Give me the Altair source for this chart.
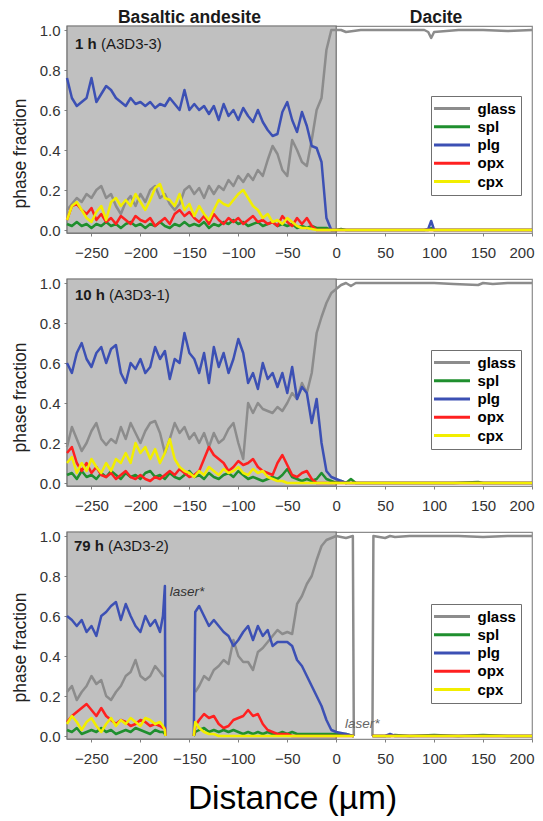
import altair as alt
import pandas as pd

FONT = "Liberation Sans"
W, H = 465, 207

PHASES = ["glass", "spl", "plg", "opx", "cpx"]
COLORS = ["#8c8c8c", "#1f8f2e", "#3c50b4", "#ff2020", "#f2ee00"]

X_TICKS = [-250, -200, -150, -100, -50, 0, 50, 100, 150, 200]
Y_TICKS = [0.0, 0.2, 0.4, 0.6, 0.8, 1.0]
X_DOMAIN = [-275, 200]
Y_DOMAIN = [-0.015, 1.02]

HEADINGS = ["Basaltic andesite", "Dacite"]
HEAD_X = [-150, 102]
PANEL_BOLD = ["1 h", "10 h", "79 h"]
PANEL_ID = ["(A3D3-3)", "(A3D3-1)", "(A3D3-2)"]
LASER_TEXT = ["laser*", "laser*"]
LASER_X = [-170, 9]
LASER_Y = [0.72, 0.06]
SHADE_X = [-275]
SHADE_X2 = [0]

# ---------- left (basaltic andesite) sampling grid for panels 1 and 2 ----------
X_LEFT = [-275, -270, -265, -260, -255, -250, -245, -240, -235, -230,
          -225, -220, -215, -210, -205, -200, -195, -190, -185, -180,
          -175, -170, -165, -160, -155, -150, -145, -140, -135, -130,
          -125, -120, -115, -110, -105, -100, -95, -90, -85, -80,
          -75, -70, -65, -60, -55, -50, -45, -40, -35, -30,
          -25, -20, -15, -10, -5, 0]

# ---------- panel 1 : 1 h (A3D3-3) ----------
P1_GLASS_L = [0.10, 0.13, 0.16, 0.14, 0.18, 0.16, 0.20, 0.22, 0.16, 0.18,
              0.12, 0.08, 0.14, 0.17, 0.12, 0.18, 0.14, 0.20, 0.22, 0.16,
              0.18, 0.13, 0.10, 0.13, 0.20, 0.22, 0.18, 0.21, 0.16, 0.22,
              0.18, 0.22, 0.20, 0.25, 0.22, 0.27, 0.24, 0.28, 0.25, 0.30,
              0.27, 0.35, 0.42, 0.38, 0.30, 0.27, 0.45, 0.40, 0.34, 0.32,
              0.45, 0.60, 0.66, 0.90, 1.00, 1.00]
P1_SPL_L = [0.03, 0.02, 0.04, 0.02, 0.03, 0.01, 0.03, 0.02, 0.04, 0.02,
            0.03, 0.01, 0.03, 0.04, 0.02, 0.03, 0.01, 0.03, 0.02, 0.04,
            0.02, 0.01, 0.03, 0.02, 0.04, 0.02, 0.03, 0.02, 0.04, 0.01,
            0.03, 0.02, 0.04, 0.03, 0.05, 0.03, 0.04, 0.02, 0.03, 0.04,
            0.02, 0.03, 0.04, 0.02, 0.03, 0.02, 0.03, 0.01, 0.02, 0.01,
            0.02, 0.01, 0.01, 0.01, 0.00, 0.00]
P1_PLG_L = [0.76, 0.66, 0.62, 0.64, 0.66, 0.76, 0.64, 0.68, 0.72, 0.70,
            0.66, 0.64, 0.62, 0.66, 0.63, 0.64, 0.62, 0.64, 0.61, 0.63,
            0.62, 0.66, 0.63, 0.60, 0.70, 0.60, 0.63, 0.60, 0.62, 0.58,
            0.62, 0.55, 0.63, 0.57, 0.60, 0.55, 0.61, 0.57, 0.54, 0.60,
            0.54, 0.50, 0.47, 0.48, 0.59, 0.64, 0.55, 0.49, 0.59, 0.52,
            0.42, 0.41, 0.34, 0.06, 0.00, 0.00]
P1_OPX_L = [0.05, 0.12, 0.13, 0.10, 0.08, 0.11, 0.05, 0.08, 0.04, 0.06,
            0.03, 0.07, 0.05, 0.03, 0.07, 0.05, 0.04, 0.06, 0.02, 0.04,
            0.06, 0.03, 0.08, 0.10, 0.07, 0.09, 0.06, 0.04, 0.07, 0.03,
            0.08, 0.05, 0.03, 0.06, 0.04, 0.06, 0.03, 0.05, 0.07, 0.04,
            0.05, 0.03, 0.04, 0.02, 0.07, 0.04, 0.02, 0.06, 0.03, 0.06,
            0.02, 0.00, 0.00, 0.00, 0.00, 0.00]
P1_CPX_L = [0.05, 0.12, 0.14, 0.10, 0.06, 0.04, 0.09, 0.12, 0.05, 0.14,
            0.16, 0.12, 0.15, 0.12, 0.18, 0.14, 0.10, 0.15, 0.21, 0.23,
            0.16, 0.15, 0.12, 0.18, 0.10, 0.13, 0.07, 0.12, 0.08, 0.05,
            0.10, 0.15, 0.13, 0.12, 0.15, 0.18, 0.20, 0.16, 0.12, 0.10,
            0.06, 0.08, 0.04, 0.05, 0.03, 0.06, 0.04, 0.02, 0.01, 0.01,
            0.005, 0.00, 0.00, 0.00, 0.00, 0.00]
R1_X = [5, 10, 25, 50, 75, 90, 94, 97, 100, 125, 150, 175, 200]
P1_GLASS_R = [1.00, 0.99, 1.00, 1.00, 1.00, 1.00, 0.99, 0.96, 0.99, 1.00, 1.00, 0.995, 1.00]
P1_SPL_R = [0.005, 0.00, 0.00, 0.00, 0.00, 0.00, 0.00, 0.01, 0.00, 0.00, 0.00, 0.00, 0.00]
P1_PLG_R = [0.00, 0.00, 0.00, 0.00, 0.00, 0.00, 0.005, 0.045, 0.00, 0.00, 0.00, 0.00, 0.00]
P1_OPX_R = [0.00, 0.00, 0.00, 0.00, 0.00, 0.00, 0.00, 0.00, 0.00, 0.00, 0.00, 0.00, 0.00]
P1_CPX_R = [0.00, 0.00, 0.00, 0.00, 0.00, 0.00, 0.00, 0.00, 0.00, 0.00, 0.00, 0.00, 0.00]

# ---------- panel 2 : 10 h (A3D3-1) ----------
P2_GLASS_L = [0.18, 0.28, 0.22, 0.16, 0.20, 0.26, 0.30, 0.22, 0.19, 0.22,
              0.20, 0.28, 0.22, 0.30, 0.25, 0.20, 0.26, 0.30, 0.31, 0.25,
              0.15, 0.22, 0.30, 0.25, 0.28, 0.22, 0.25, 0.20, 0.25, 0.18,
              0.25, 0.20, 0.22, 0.27, 0.30, 0.20, 0.12, 0.40, 0.35, 0.40,
              0.37, 0.36, 0.35, 0.38, 0.36, 0.40, 0.45, 0.42, 0.50, 0.45,
              0.55, 0.75, 0.83, 0.90, 0.95, 0.97]
P2_SPL_L = [0.04, 0.05, 0.02, 0.06, 0.03, 0.04, 0.02, 0.05, 0.03, 0.06,
            0.04, 0.02, 0.05, 0.03, 0.04, 0.02, 0.05, 0.06, 0.03, 0.04,
            0.02, 0.05, 0.03, 0.02, 0.04, 0.06, 0.03, 0.04, 0.02, 0.05,
            0.03, 0.02, 0.04, 0.05, 0.03, 0.06, 0.04, 0.02, 0.03, 0.02,
            0.01, 0.02, 0.03, 0.02, 0.04, 0.07, 0.03, 0.02, 0.01, 0.02,
            0.01, 0.02, 0.05, 0.02, 0.01, 0.00]
P2_PLG_L = [0.60, 0.55, 0.65, 0.70, 0.62, 0.58, 0.65, 0.68, 0.60, 0.67,
            0.69, 0.55, 0.50, 0.60, 0.57, 0.62, 0.55, 0.58, 0.68, 0.62,
            0.66, 0.52, 0.62, 0.60, 0.75, 0.65, 0.62, 0.55, 0.65, 0.50,
            0.68, 0.58, 0.65, 0.55, 0.62, 0.72, 0.65, 0.50, 0.55, 0.47,
            0.60, 0.52, 0.55, 0.48, 0.55, 0.45, 0.58, 0.42, 0.48, 0.45,
            0.30, 0.42, 0.20, 0.06, 0.03, 0.02]
P2_OPX_L = [0.15, 0.18, 0.10, 0.06, 0.10, 0.05, 0.08, 0.04, 0.03, 0.05,
            0.02, 0.04, 0.06, 0.03, 0.02, 0.04, 0.02, 0.01, 0.03, 0.02,
            0.04, 0.06, 0.04, 0.07, 0.05, 0.03, 0.04, 0.06, 0.12, 0.18,
            0.14, 0.12, 0.10, 0.06, 0.08, 0.11, 0.09, 0.10, 0.12, 0.08,
            0.06, 0.05, 0.04, 0.10, 0.14, 0.09, 0.04, 0.03, 0.05, 0.06,
            0.02, 0.00, 0.00, 0.00, 0.00, 0.00]
P2_CPX_L = [0.10, 0.13, 0.05, 0.10, 0.06, 0.12, 0.08, 0.05, 0.10, 0.06,
            0.12, 0.10, 0.15, 0.10, 0.20, 0.15, 0.18, 0.12, 0.17, 0.10,
            0.15, 0.22, 0.12, 0.08, 0.06, 0.05, 0.03, 0.06, 0.04, 0.08,
            0.06, 0.04, 0.07, 0.05, 0.06, 0.08, 0.05, 0.04, 0.07, 0.05,
            0.06, 0.03, 0.02, 0.01, 0.01, 0.00, 0.00, 0.00, 0.00, 0.00,
            0.00, 0.00, 0.00, 0.00, 0.00, 0.00]
R2_X = [5, 10, 15, 20, 50, 100, 120, 145, 150, 160, 175, 200]
P2_GLASS_R = [0.99, 1.00, 0.985, 1.00, 1.00, 1.00, 0.995, 0.99, 1.00, 0.995, 1.00, 1.00]
P2_SPL_R = [0.01, 0.00, 0.02, 0.00, 0.00, 0.00, 0.00, 0.005, 0.00, 0.00, 0.00, 0.00]
P2_PLG_R = [0.01, 0.00, 0.00, 0.00, 0.00, 0.00, 0.00, 0.00, 0.00, 0.00, 0.00, 0.00]
P2_OPX_R = [0.00, 0.00, 0.00, 0.00, 0.00, 0.00, 0.00, 0.00, 0.00, 0.00, 0.00, 0.00]
P2_CPX_R = [0.00, 0.00, 0.00, 0.00, 0.00, 0.00, 0.00, 0.00, 0.00, 0.00, 0.00, 0.00]

# ---------- panel 3 : 79 h (A3D3-2), with laser gaps (None) ----------
P3_X = [-275, -270, -265, -260, -255, -250, -245, -240, -235, -230,
        -225, -220, -215, -210, -205, -200, -195, -190, -185, -180,
        -177, -175, -174.5, -160, -145.5, -144, -140, -135, -130, -125,
        -120, -115, -110, -105, -100, -95, -90, -85, -80, -75,
        -70, -65, -60, -55, -50, -45, -40, -35, -30, -25,
        -20, -15, -10, -5, 0, 10, 17, 18, 27, 37,
        38, 50, 55, 60, 75, 100, 125, 150, 175, 200]
P3_GLASS = [0.22, 0.25, 0.18, 0.22, 0.25, 0.30, 0.26, 0.28, 0.20, 0.18,
            0.22, 0.25, 0.30, 0.32, 0.38, 0.30, 0.28, 0.30, 0.35, 0.32,
            0.30, 0.30, None, None, None, 0.22, 0.25, 0.30, 0.28, 0.33,
            0.35, 0.38, 0.36, 0.48, 0.40, 0.37, 0.37, 0.33, 0.42, 0.44,
            0.47, 0.50, 0.53, 0.51, 0.52, 0.51, 0.66, 0.70, 0.76, 0.80,
            0.88, 0.95, 0.98, 0.99, 1.00, 0.99, 1.00, 0.00, None, 0.00,
            1.00, 0.99, 1.00, 0.995, 1.00, 1.00, 1.00, 0.995, 1.00, 1.00]
P3_SPL = [0.03, 0.02, 0.04, 0.01, 0.02, 0.03, 0.02, 0.04, 0.02, 0.03,
          0.01, 0.02, 0.03, 0.02, 0.04, 0.03, 0.02, 0.01, 0.03, 0.02,
          0.02, 0.01, 0.00, None, 0.00, 0.02, 0.03, 0.04, 0.02, 0.03,
          0.02, 0.03, 0.02, 0.03, 0.02, 0.01, 0.02, 0.01, 0.02, 0.01,
          0.02, 0.01, 0.01, 0.02, 0.01, 0.02, 0.01, 0.01, 0.01, 0.01,
          0.01, 0.01, 0.01, 0.01, 0.01, 0.01, 0.00, 0.00, None, 0.00,
          0.00, 0.00, 0.00, 0.005, 0.00, 0.005, 0.00, 0.005, 0.00, 0.00]
P3_PLG = [0.60, 0.58, 0.55, 0.58, 0.52, 0.55, 0.50, 0.60, 0.62, 0.65,
          0.67, 0.58, 0.66, 0.60, 0.55, 0.52, 0.60, 0.55, 0.58, 0.52,
          0.60, 0.75, 0.00, None, 0.00, 0.62, 0.65, 0.60, 0.55, 0.58,
          0.55, 0.52, 0.50, 0.45, 0.48, 0.52, 0.55, 0.48, 0.55, 0.50,
          0.53, 0.45, 0.47, 0.47, 0.47, 0.45, 0.38, 0.35, 0.30, 0.25,
          0.20, 0.15, 0.08, 0.03, 0.02, 0.01, 0.00, 0.00, None, 0.00,
          0.00, 0.00, 0.01, 0.00, 0.00, 0.00, 0.00, 0.00, 0.00, 0.00]
P3_OPX = [0.07, 0.10, 0.12, 0.14, 0.16, 0.13, 0.10, 0.14, 0.10, 0.08,
          0.06, 0.08, 0.07, 0.05, 0.06, 0.08, 0.07, 0.05, 0.06, 0.05,
          0.04, 0.04, 0.00, None, 0.00, 0.05, 0.08, 0.11, 0.09, 0.10,
          0.06, 0.04, 0.05, 0.08, 0.09, 0.10, 0.13, 0.10, 0.11, 0.06,
          0.03, 0.02, 0.01, 0.01, 0.01, 0.00, 0.00, 0.00, 0.00, 0.00,
          0.00, 0.00, 0.00, 0.00, 0.00, 0.00, 0.00, 0.00, None, 0.00,
          0.00, 0.00, 0.00, 0.00, 0.00, 0.00, 0.00, 0.00, 0.00, 0.00]
P3_CPX = [0.06, 0.10, 0.07, 0.03, 0.07, 0.09, 0.05, 0.02, 0.06, 0.09,
          0.05, 0.08, 0.06, 0.09, 0.07, 0.05, 0.09, 0.08, 0.06, 0.07,
          0.05, 0.03, 0.00, None, 0.00, 0.07, 0.04, 0.02, 0.01, 0.01,
          0.00, 0.00, 0.00, 0.00, 0.00, 0.00, 0.00, 0.00, 0.00, 0.00,
          0.00, 0.00, 0.00, 0.00, 0.00, 0.00, 0.00, 0.00, 0.00, 0.00,
          0.00, 0.00, 0.00, 0.00, 0.00, 0.00, 0.00, 0.00, None, 0.00,
          0.00, 0.00, 0.00, 0.00, 0.00, 0.00, 0.00, 0.00, 0.00, 0.00]

PANELS = [
    (X_LEFT + R1_X, [P1_GLASS_L + P1_GLASS_R, P1_SPL_L + P1_SPL_R, P1_PLG_L + P1_PLG_R,
                     P1_OPX_L + P1_OPX_R, P1_CPX_L + P1_CPX_R]),
    (X_LEFT + R2_X, [P2_GLASS_L + P2_GLASS_R, P2_SPL_L + P2_SPL_R, P2_PLG_L + P2_PLG_R,
                     P2_OPX_L + P2_OPX_R, P2_CPX_L + P2_CPX_R]),
    (P3_X, [P3_GLASS, P3_SPL, P3_PLG, P3_OPX, P3_CPX]),
]

# layout tweaks (pixels)
LEG_Y = [70, 71, 72]
LAB_Y = [17.5, 15.5, 13.5]
LAB_X = [8, 8, 7]
LAB_X2 = [34, 42, 41]
YTITLE_Y = [127, 118, 115]


def table(xs, series):
    rows = []
    for name, vals in zip(PHASES, series):
        seg = 0
        for xv, v in zip(xs, vals):
            if v is None:
                seg += 1
                continue
            rows.append({"x": xv, "v": v, "phase": name, "seg": f"{name}-{seg}"})
    return pd.DataFrame(rows)


xscale = alt.Scale(domain=X_DOMAIN, nice=False, zero=False)
yscale = alt.Scale(domain=Y_DOMAIN, nice=False, zero=False)


def make_panel(i):
    xs, series = PANELS[i]
    df = table(xs, series)
    last = i == 2

    xkw = dict(values=X_TICKS, format="d", grid=False, domain=False, tickSize=3,
               tickColor="#808080", labelFontSize=15, labelColor="#333333",
               labelPadding=9, labelFlush=5, labelFlushOffset=2, labelFont=FONT)
    if last:
        xaxis = alt.Axis(title="Distance (µm)", titleFontSize=33.5, titleFontWeight="normal",
                         titleColor="#000000", titleX=225, titleY=69,
                         titleBaseline="alphabetic", titleAlign="center",
                         titleFont=FONT, **xkw)
    else:
        xaxis = alt.Axis(title=None, **xkw)
    yaxis = alt.Axis(title="phase fraction", values=Y_TICKS, format=".1f", grid=False,
                     domain=False, tickSize=3, tickColor="#808080", labelFontSize=15,
                     labelColor="#333333", labelPadding=4, labelFont=FONT,
                     titleFontSize=17.5, titleFontWeight="normal", titleColor="#222222",
                     titleFont=FONT, titleAngle=270, titleX=-47, titleY=YTITLE_Y[i],
                     titleBaseline="middle", titleAlign="center")

    shade_df = pd.DataFrame({"x": SHADE_X, "x2": SHADE_X2})
    shade = alt.Chart(shade_df).mark_rect(fill="#c0c0c0", stroke="#6e6e6e", strokeWidth=1.2).encode(
        x=alt.X("x:Q", scale=xscale, axis=xaxis),
        x2="x2:Q",
        y=alt.value(0),
        y2=alt.value(H),
    )

    legend = alt.Legend(title=None, orient="none", legendX=364, legendY=LEG_Y[i],
                        direction="vertical", symbolType="M-4.5,0H4.5", symbolSize=64,
                        symbolStrokeWidth=3, symbolOffset=8.5,
                        labelFontSize=15, labelFontWeight="bold",
                        labelColor="#000000", labelFont=FONT, labelOffset=18,
                        padding=5, rowPadding=2.25, fillColor="#ffffff",
                        strokeColor="#707070")
    lines = alt.Chart(df).mark_line(strokeWidth=2.5, strokeJoin="round").encode(
        x=alt.X("x:Q", scale=xscale, axis=xaxis),
        y=alt.Y("v:Q", scale=yscale, axis=yaxis),
        color=alt.Color("phase:N", scale=alt.Scale(domain=PHASES, range=COLORS), legend=legend),
        detail="seg:N",
    )

    lab_df = pd.DataFrame({"b": [PANEL_BOLD[i]], "n": [PANEL_ID[i]]})
    lab_b = alt.Chart(lab_df).mark_text(align="left", baseline="middle", fontWeight="bold",
                                        fontSize=15, font=FONT, color="#1a1a1a").encode(
        text="b:N", x=alt.value(LAB_X[i]), y=alt.value(LAB_Y[i]))
    lab_n = alt.Chart(lab_df).mark_text(align="left", baseline="middle", fontSize=15,
                                        font=FONT, color="#1a1a1a").encode(
        text="n:N", x=alt.value(LAB_X2[i]), y=alt.value(LAB_Y[i]))

    layers = [shade, lines, lab_b, lab_n]

    if i == 0:
        head_df = pd.DataFrame({"t": HEADINGS, "x": HEAD_X})
        heads = alt.Chart(head_df).mark_text(align="center", baseline="middle", fontWeight="bold",
                                             fontSize=17.5, font=FONT, color="#1a1a1a").encode(
            text="t:N", x=alt.X("x:Q", scale=xscale, axis=xaxis), y=alt.value(-8))
        layers.append(heads)
    if last:
        las_df = pd.DataFrame({"t": LASER_TEXT, "x": LASER_X, "v": LASER_Y,
                               "c": ["#333333", "#666666"]})
        las = alt.Chart(las_df).mark_text(align="left", baseline="middle", fontStyle="italic",
                                          fontSize=13.5, font=FONT).encode(
            text="t:N",
            x=alt.X("x:Q", scale=xscale, axis=xaxis),
            y=alt.Y("v:Q", scale=yscale, axis=yaxis),
            color=alt.Color("c:N", scale=None, legend=None),
        )
        layers.append(las)

    return alt.layer(*layers).properties(width=W, height=H)


chart = alt.vconcat(make_panel(0), make_panel(1), make_panel(2), spacing=46, bounds="flush")
chart = chart.resolve_scale(color="independent").properties(
    padding={"left": 2, "top": 0, "right": 0, "bottom": 0}
).configure(font=FONT, view=alt.ViewConfig(stroke="#8c8c8c", strokeWidth=1.2))

chart.save("out.html", embed_options={"renderer": "svg", "actions": False})
